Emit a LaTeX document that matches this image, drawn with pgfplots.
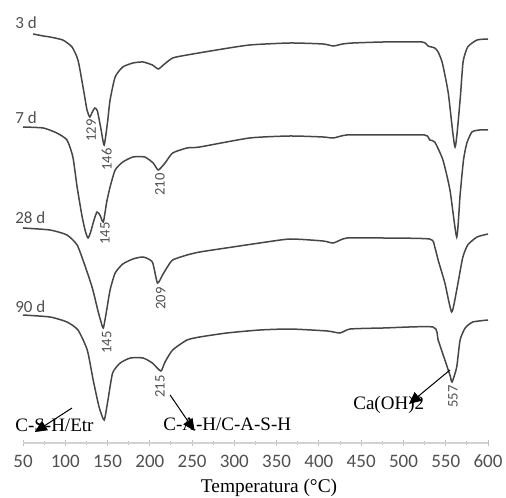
\documentclass[border=0pt]{standalone}
\usepackage{pgfplots}
\pgfplotsset{compat=1.18}
\usepackage{fontspec}
\setmainfont{Liberation Serif}
\newfontfamily\carlito{Carlito}
\usetikzlibrary{arrows.meta}
\definecolor{curve}{RGB}{70,70,70}
\definecolor{lbl}{RGB}{80,80,80}
\begin{document}
\begin{tikzpicture}
\useasboundingbox (0,0) rectangle (253pt,248.5pt);
\begin{axis}[
  at={(11.5pt,27pt)}, anchor=south west,
  scale only axis, width=232.5pt, height=216.5pt,
  xmin=50, xmax=600, ymin=-443, ymax=-10,
  axis x line*=bottom, axis y line=none,
  x axis line style={gray!35, line width=0.6pt},
  xtick={50,100,...,600}, minor x tick num=1,
  tick align=center, major tick length=3pt, minor tick length=2pt,
  every tick/.style={gray!50, line width=0.5pt},
  /pgf/number format/assume math mode=true,
  xticklabel style={font=\fontsize{9.5}{11}\selectfont\carlito, text=lbl, yshift=-1pt},
  clip=false,
  crv/.style={draw=curve, line width=0.75pt, no markers, smooth, tension=0.35},
]
% 3 d
\addplot[crv] coordinates {(62,-34) (74,-36) (82,-37) (97,-40) (108,-47) (115,-60) (121,-87) (125.7,-110) (129,-117) (132,-112) (135,-108) (138,-111) (142,-128) (146,-145) (150,-122) (153,-100) (159,-77) (168,-67) (180,-63) (192,-62) (203,-65) (210,-69) (216,-65) (227,-58) (244,-55) (279,-50) (318,-45) (366,-43) (405,-44) (417,-46) (428,-44) (440,-43) (476,-42) (522,-42) (529,-46) (537,-48) (541,-52) (546,-63) (553,-93) (561,-147) (567,-100) (570.5,-62) (576,-47) (587,-40) (600,-39)};
% 7 d
\addplot[crv] coordinates {(50,-127) (74,-128) (90,-133) (102,-140) (109,-157) (114,-187) (120,-217) (124,-232) (127,-238) (130,-232) (134,-220) (137.5,-212) (141,-215) (145,-222) (149,-202) (153,-187) (159,-170) (168,-162) (180,-157) (194,-157) (204,-163) (210,-170) (218,-163) (227,-153) (244,-148) (259,-147) (318,-138) (366,-136) (405,-137) (417,-138) (433,-135) (476,-135) (525,-135) (531,-140) (537,-142) (546.7,-160) (555,-190) (563,-237) (567,-195) (571,-160) (575,-143) (581,-132) (590,-130) (600,-130)};
% 28 d
\addplot[crv] coordinates {(50,-228) (82,-230) (102,-235) (114,-245) (123,-265) (132,-288) (139,-312) (142,-321) (145,-328) (149,-310) (153,-290) (159,-273) (168,-264) (180,-259) (192,-257) (203,-262) (209,-283) (215,-275) (220,-268) (227,-260) (244,-255) (259,-252) (298,-247) (330,-243) (366,-239) (405,-241) (417,-243) (433,-238) (476,-238) (531,-239) (537,-247) (541,-260) (549,-283) (557,-312) (563,-290) (570,-258) (576,-245) (587,-237) (600,-234)};
% 90 d
\addplot[crv] coordinates {(50,-315) (82,-317) (102,-322) (115,-330) (126,-350) (133,-380) (140,-407) (146,-420) (150.5,-400) (156,-373) (165,-363) (177,-358) (192,-358) (203,-363) (213,-371) (218,-362) (227,-350) (244,-340) (259,-337) (291,-333) (330,-330) (366,-329) (410,-331) (425,-333) (437,-329) (476,-328) (535,-327) (541,-340) (549,-360) (555,-375) (557.5,-382) (563,-367) (567,-340) (573,-328) (582,-322) (600,-320)};
% curve labels
\node[anchor=west, inner sep=0pt, text=lbl, font=\fontsize{8.5}{10}\selectfont\carlito] at (axis cs:40.5,-23) {3 d};
\node[anchor=west, inner sep=0pt, text=lbl, font=\fontsize{8.5}{10}\selectfont\carlito] at (axis cs:40.5,-118) {7 d};
\node[anchor=west, inner sep=0pt, text=lbl, font=\fontsize{8.5}{10}\selectfont\carlito] at (axis cs:40.5,-218) {28 d};
\node[anchor=west, inner sep=0pt, text=lbl, font=\fontsize{8.5}{10}\selectfont\carlito] at (axis cs:40.5,-307) {90 d};
% peak labels
\tikzset{pk/.style={rotate=90, anchor=east, inner sep=0.5pt, text=lbl, font=\fontsize{7.3}{8}\selectfont\carlito}}
\node[pk] at (axis cs:130.5,-118) {129};
\node[pk] at (axis cs:149,-147) {146};
\node[pk] at (axis cs:212,-172) {210};
\node[pk] at (axis cs:147,-221) {145};
\node[pk] at (axis cs:149,-330) {145};
\node[pk] at (axis cs:213,-286) {209};
\node[pk] at (axis cs:212,-374) {215};
\node[pk] at (axis cs:558.6,-384) {557};
% annotations
\node[anchor=west, inner sep=0pt, font=\fontsize{9.5}{11}\selectfont] at (axis cs:40.5,-425) {C-S-H/Etr};
\node[anchor=west, inner sep=0pt, font=\fontsize{9.5}{11}\selectfont] at (axis cs:215.6,-424) {C-A-H/C-A-S-H};
\node[anchor=west, inner sep=0pt, font=\fontsize{9.5}{11}\selectfont] at (axis cs:440.3,-405) {Ca(OH)2};
\draw[black, line width=0.5pt, -{Triangle[length=6pt,width=5.5pt]}] (axis cs:108,-408) -- (axis cs:64,-432);
\draw[black, line width=0.5pt, -{Triangle[length=6pt,width=5.5pt]}] (axis cs:224,-395) -- (axis cs:253,-431);
\draw[black, line width=0.5pt, -{Triangle[length=6pt,width=5.5pt]}] (axis cs:555,-370) -- (axis cs:506.5,-404);
% x label
\node[font=\fontsize{9.7}{11}\selectfont] at (axis cs:341,-488) {Temperatura (°C)};
\end{axis}
\end{tikzpicture}
\end{document}
